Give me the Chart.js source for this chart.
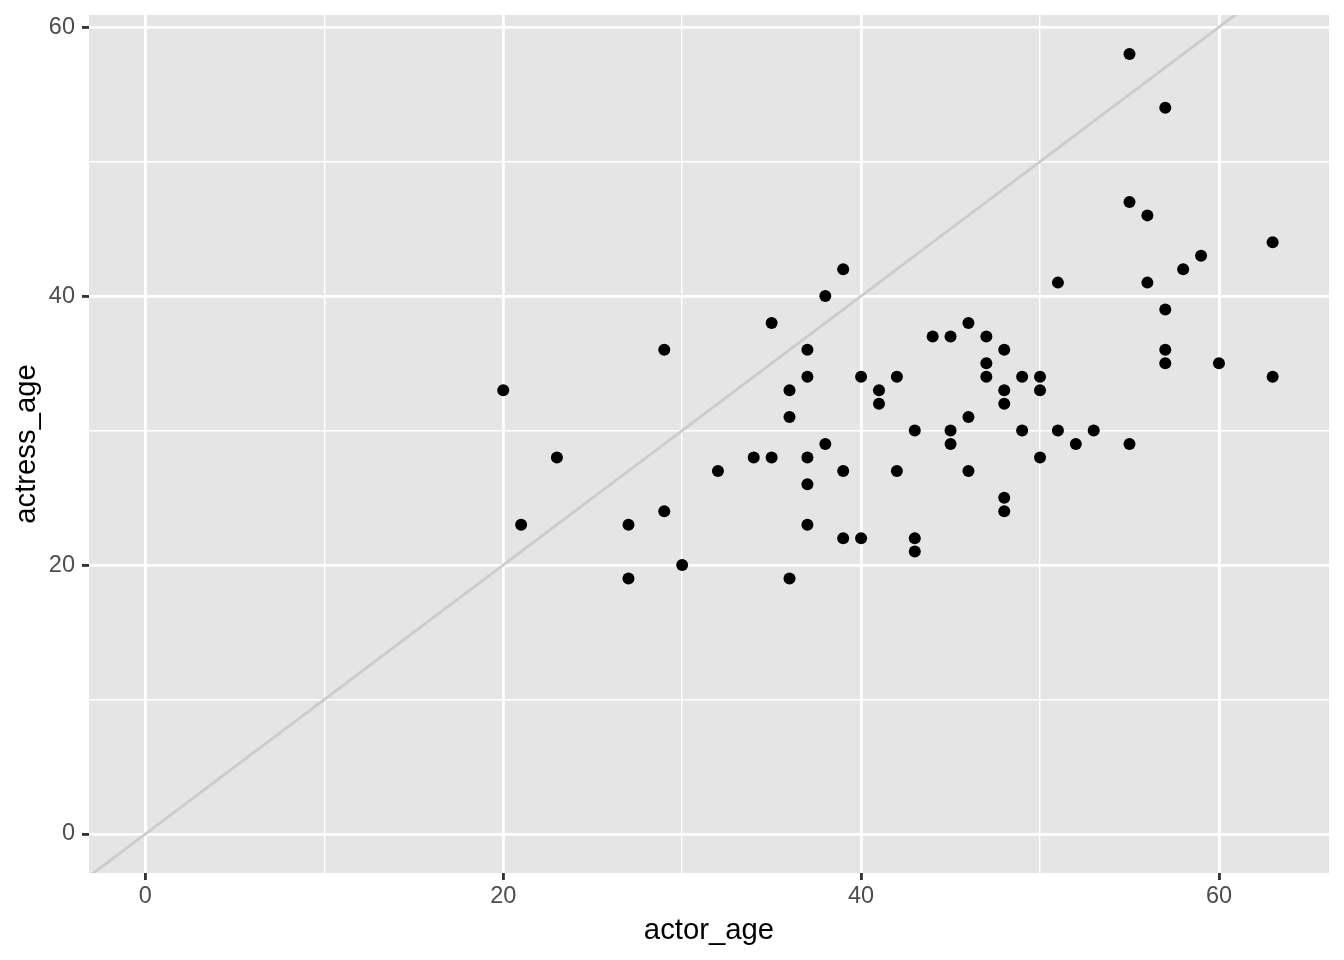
<!DOCTYPE html>
<html>
<head>
<meta charset="utf-8">
<script src="https://cdn.jsdelivr.net/npm/chart.js@4/dist/chart.umd.min.js"></script>
<style>
  html, body { margin: 0; padding: 0; background: #fff; }
</style>
</head>
<body>
<canvas id="chart" width="1344" height="960"></canvas>
<script>
// data
const actorAge = [20, 21, 23, 27, 27, 29, 29, 30, 32, 34, 35, 35, 36, 36, 36, 37, 37, 37, 37, 37,
  38, 38, 39, 39, 39, 40, 40, 41, 41, 42, 42, 43, 43, 43, 44, 45, 45, 45, 46, 46, 46, 47, 47, 47,
  48, 48, 48, 48, 48, 49, 49, 50, 50, 50, 51, 51, 52, 53, 55, 55, 55, 56, 56, 57, 57, 57, 57, 58,
  59, 60, 63, 63];
const actressAge = [33, 23, 28, 23, 19, 36, 24, 20, 27, 28, 38, 28, 33, 31, 19, 36, 34, 28, 26, 23,
  40, 29, 42, 27, 22, 34, 22, 33, 32, 34, 27, 30, 22, 21, 37, 37, 30, 29, 38, 31, 27, 37, 35, 34,
  36, 33, 32, 25, 24, 34, 30, 34, 33, 28, 41, 30, 29, 30, 58, 47, 29, 46, 41, 54, 39, 36, 35, 42,
  43, 35, 44, 34];
const xMajorTicks = [0, 20, 40, 60];
const yMajorTicks = [0, 20, 40, 60];
const xLimits = [-3.15, 66.15];
const yLimits = [-2.9, 60.9];
const ablineIntercept = 0;
const ablineSlope = 1;

const points = actorAge.map((x, i) => ({ x, y: actressAge[i] }));
const ablinePoints = xLimits.map(x => ({ x, y: ablineIntercept + ablineSlope * x }));

const FONT = "'Liberation Sans', Arial, Helvetica, sans-serif";

const panelBackground = {
  id: 'panelBackground',
  beforeDraw(chart) {
    const { ctx, chartArea: a } = chart;
    ctx.save();
    ctx.fillStyle = '#FFFFFF';
    ctx.fillRect(0, 0, chart.width, chart.height);
    ctx.fillStyle = '#E5E5E5';
    ctx.fillRect(a.left, a.top, a.right - a.left, a.bottom - a.top);
    ctx.restore();
  }
};

function axisOptions(limits, majors, title, isX) {
  const isMajor = (ctx) => ctx.tick && majors.includes(ctx.tick.value);
  return {
    type: 'linear',
    min: limits[0],
    max: limits[1],
    border: { display: false },
    grid: {
      color: '#FFFFFF',
      lineWidth: (ctx) => isMajor(ctx) ? 2.85 : 1.42,
      drawTicks: true,
      tickLength: 7,
      tickWidth: 2.85,
      tickColor: (ctx) => isMajor(ctx) ? '#333333' : 'rgba(0,0,0,0)',
    },
    ticks: {
      stepSize: 10,
      includeBounds: false,
      autoSkip: false,
      maxRotation: 0,
      padding: isX ? 2 : 7,
      color: '#4D4D4D',
      font: { family: FONT, size: 23.5 },
      callback: (v) => majors.includes(v) ? String(v) : '',
    },
    title: {
      display: true,
      text: title,
      color: '#000000',
      font: { family: FONT, size: 29.3 },
      padding: isX ? { top: 0, bottom: 12 } : { top: 9, bottom: 0 },
    },
    afterFit(scale) {
      if (isX) scale.height = 960 - 873;
      else scale.width = 89;
      scale.paddingTop = 0;
      scale.paddingBottom = 0;
      scale.paddingLeft = 0;
      scale.paddingRight = 0;
    },
  };
}

new Chart(document.getElementById('chart'), {
  type: 'scatter',
  data: {
    datasets: [
      {
        label: 'abline',
        data: ablinePoints,
        showLine: true,
        borderColor: '#CCCCCC',
        borderWidth: 2.85,
        pointRadius: 0,
        clip: 0,
        order: 2,
      },
      {
        label: 'films',
        data: points,
        backgroundColor: '#000000',
        borderWidth: 0,
        pointRadius: 6,
        pointHoverRadius: 6,
        order: 1,
      },
    ],
  },
  options: {
    responsive: false,
    animation: false,
    events: [],
    layout: { padding: { top: 15, right: 15, bottom: 0, left: 0 } },
    plugins: {
      legend: { display: false },
      tooltip: { enabled: false },
    },
    scales: {
      x: axisOptions(xLimits, xMajorTicks, 'actor_age', true),
      y: axisOptions(yLimits, yMajorTicks, 'actress_age', false),
    },
  },
  plugins: [panelBackground],
});
</script>
</body>
</html>
